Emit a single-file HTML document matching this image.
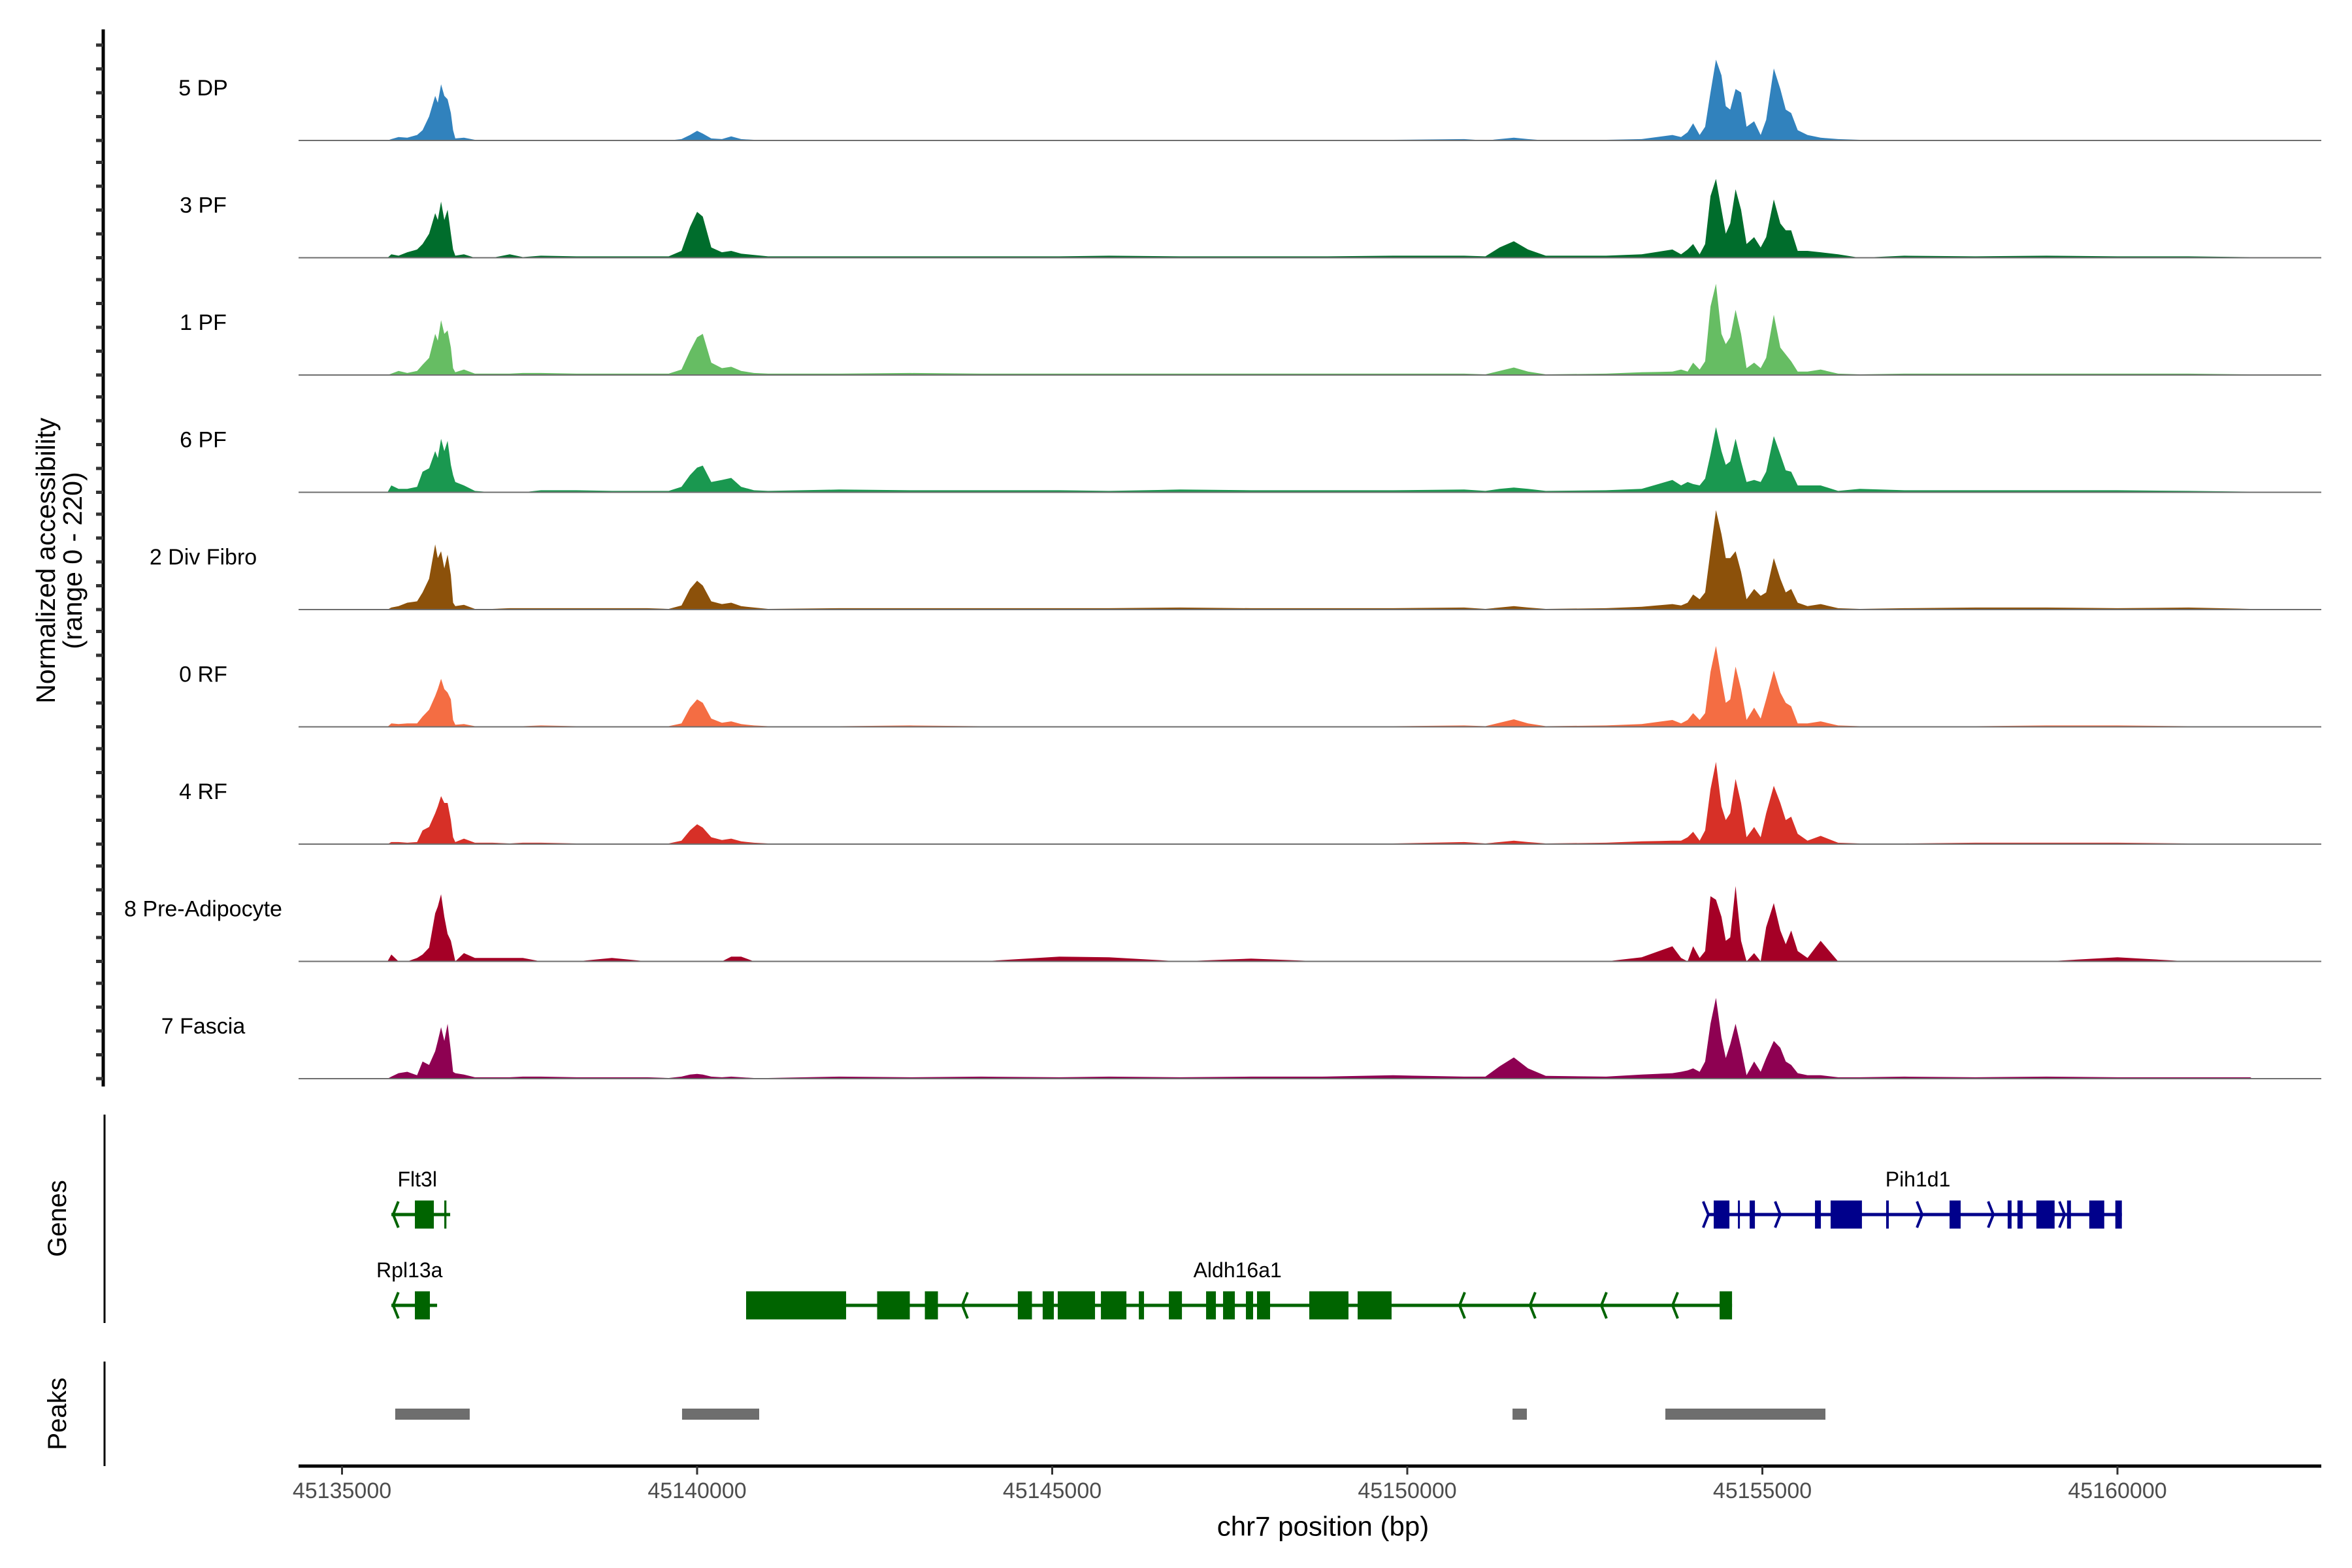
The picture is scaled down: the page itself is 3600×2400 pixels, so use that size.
<!DOCTYPE html>
<html><head><meta charset="utf-8"><style>
html,body{margin:0;padding:0;background:#fff;}
svg{display:block;font-family:"Liberation Sans",sans-serif;}
</style></head><body>
<svg id="chart" xmlns="http://www.w3.org/2000/svg" width="3600" height="2400" viewBox="0 0 3600 2400">
<rect width="3600" height="2400" fill="#fff"/>
<g id="tracks"></g>
<g id="genes"></g>
<g id="peaks"></g>
<g id="axes"></g>
<text transform="translate(70,858) rotate(-90)" text-anchor="middle" dominant-baseline="central" font-size="41">Normalized accessibility</text>
<text transform="translate(111,858) rotate(-90)" text-anchor="middle" dominant-baseline="central" font-size="41">(range 0 - 220)</text>
<text transform="translate(88,1865) rotate(-90)" text-anchor="middle" dominant-baseline="central" font-size="40">Genes</text>
<text transform="translate(88,2164) rotate(-90)" text-anchor="middle" dominant-baseline="central" font-size="40">Peaks</text>
<text x="2025" y="2336" text-anchor="middle" dominant-baseline="central" font-size="42">chr7 position (bp)</text>
</svg>
<script>
const regionStart = 45135000;
const trackNames = ["5 DP","3 PF","1 PF","6 PF","2 Div Fibro","0 RF","4 RF","8 Pre-Adipocyte","7 Fascia"];
const trackColors = ["#3182bd","#006d2c","#66bd63","#1a9850","#8c510a","#f46d43","#d73027","#a50026","#8e0152"];
const positions = [640,
695,796,919,1057,1134,1226,1312,1349,1395,1441,1487,1533,1564,1595,1717,1871,2116,2362,2546,
2800,3300,3800,4300,
4600,4780,4900,5000,5080,5200,5350,5480,5620,5800,6000,
7000,8000,9000,10100,10800,11800,12800,13800,14800,15800,
16100,16300,16500,16700,16950,
17800,18300,
18733,18856,18948,19025,19117,19194,19270,19347,19424,19485,19547,19623,19700,19777,19884,19976,20053,20161,20253,20329,20406,20498,20636,20821,21066,21373,
22000,23000,24000,25000,26000,26870,
26900];
const valsDP = [0,
2,5,4,8,15,35,65,55,82,65,60,40,15,3,4,1,1,1,1,
1,1,1,1,
0,2,8,14,10,3,2,6,2,1,0,
1,1,1,1,1,1,1,1,1,2,
0,2,4,2,0,
1,2,
8,5,12,25,8,20,70,118,95,50,45,75,70,20,28,8,30,105,75,45,40,15,8,4,2,1,
1,1,1,1,0,0,
0];
const vals3PF = [0,
5,3,8,12,20,35,65,55,82,55,70,35,12,3,5,0,0,5,1,
3,2,2,2,
2,10,45,67,60,15,8,10,6,4,2,
2,2,2,2,3,2,2,2,3,3,
2,15,24,12,3,
3,5,
12,5,12,20,5,20,90,115,70,35,50,100,70,20,30,15,30,85,50,40,40,10,10,8,5,0,
3,2,3,2,2,1,
0];
const vals1PF = [0,
2,6,3,6,15,25,60,50,80,60,65,40,10,4,8,2,2,2,3,
3,2,2,2,
2,8,35,55,60,18,10,12,6,3,2,
2,3,2,2,2,2,2,2,2,2,
1,6,11,5,1,
2,4,
5,8,5,18,8,20,100,133,60,45,55,95,60,10,18,10,25,88,40,30,20,5,5,8,2,1,
2,2,2,2,2,1,
0];
const vals6PF = [0,
10,5,5,8,30,35,60,50,78,60,75,40,25,15,10,2,0,0,0,
3,3,2,2,
2,8,25,36,39,15,18,21,8,3,2,
4,3,3,3,2,4,3,3,3,4,
2,5,7,5,2,
3,5,
18,10,15,12,10,20,55,95,60,40,45,78,45,15,18,15,30,82,55,32,30,10,10,10,2,5,
3,3,3,3,2,1,
0];
const valsDiv = [0,
3,5,10,12,25,45,95,75,85,60,80,50,10,5,7,1,1,2,2,
2,2,2,2,
1,6,30,42,35,12,8,10,5,3,1,
2,2,2,2,2,3,2,2,2,3,
1,3,5,3,1,
2,4,
8,6,10,22,15,25,85,145,110,75,75,85,55,15,30,20,25,75,45,25,30,10,5,8,2,1,
2,3,3,2,3,1,
0];
const vals0RF = [0,
5,4,5,5,15,25,45,55,70,55,50,40,10,3,4,1,1,1,1,
2,1,1,1,
1,5,28,40,35,12,6,8,4,2,1,
1,2,1,1,1,1,1,1,1,2,
1,6,11,5,1,
2,4,
10,5,10,20,10,20,80,118,70,35,40,88,55,10,28,12,40,82,50,35,30,5,5,8,2,1,
1,1,2,2,1,1,
0];
const vals4RF = [0,
3,3,2,3,20,25,45,55,70,60,60,35,10,3,8,2,2,1,2,
2,1,1,1,
1,5,20,29,24,10,6,8,4,2,1,
1,1,1,1,1,1,1,1,1,3,
1,3,5,3,1,
2,4,
5,5,10,18,5,20,80,120,55,35,45,95,60,10,25,10,45,85,60,35,40,15,5,12,2,1,
1,2,2,2,1,1,
0];
const valsPre = [0,
10,0,0,5,10,20,70,80,98,65,40,30,15,0,12,5,5,5,5,
0,0,5,0,
0,0,0,0,0,0,0,7,7,0,0,
0,0,0,7,6,0,4,0,0,0,
0,0,0,0,0,
0,6,
22,5,0,22,5,15,95,90,65,30,35,110,30,0,12,0,50,85,45,25,45,15,5,30,0,0,
0,0,0,6,0,0,
0];
const valsFas = [0,
3,8,10,5,25,20,40,55,75,55,80,40,10,8,6,2,2,2,3,
3,2,2,2,
1,3,6,7,6,3,2,3,2,1,1,
3,2,3,2,3,2,3,3,5,3,
3,18,31,15,4,
3,6,
8,10,12,15,10,25,80,118,60,30,50,80,45,5,25,10,30,55,45,25,20,8,5,5,2,2,
3,2,3,2,2,2,
0];
const trackValues = [valsDP,vals3PF,vals1PF,vals6PF,valsDiv,vals0RF,vals4RF,valsPre,valsFas];
const xTicks = [45135000,45140000,45145000,45150000,45155000,45160000];
const xTickLabels = ["45135000","45140000","45145000","45150000","45155000","45160000"];
const peakStarts = [45135749,45139788,45151482,45153634];
const peakEnds = [45136798,45140874,45151684,45155888];
const geneNames = ["Flt3l","Rpl13a","Aldh16a1","Pih1d1"];
const geneStarts = [45135695,45135695,45140690,45154223];
const geneEnds = [45136523,45136339,45154573,45160062];
const geneRows = [0,1,1,0];
const geneColors = ["#006400","#006400","#006400","#00008b"];
const geneLabelPos = [45136060,45135950,45147610,45157190];
const geneStrandDir = [-1,-1,-1,1];
const exonStarts = [
 [45136026,45136440],
 [45136026],
 [45140690,45142535,45143207,45144516,45144866,45145078,45145686,45146220,45146643,45147167,45147406,45147728,45147884,45148620,45149301,45154398],
 [45154315,45154656,45154821,45155741,45155961,45156743,45157636,45158454,45158592,45158858,45159290,45159603,45159970]
];
const exonEnds = [
 [45136293,45136470],
 [45136237],
 [45142098,45142995,45143391,45144715,45145023,45145603,45146045,45146293,45146827,45147305,45147572,45147829,45148068,45149172,45149779,45154573],
 [45154536,45154683,45154895,45155824,45156402,45156780,45157792,45158509,45158665,45159115,45159345,45159814,45160062]
];
const arrowPos = [
 [45135720],[45135720],
 [45143735,45150736,45151729,45152732,45153735],
 [45154240,45155253,45157250,45158253,45159256]
];

const NS = "http://www.w3.org/2000/svg";
const X0 = 457, X1 = 3553;
function xScale(p){ return 523.5 + (p - regionStart) * 0.1087; }
const baselines = [215,394.5,574,753.5,933,1112.5,1292,1471.5,1651];
const yDomainMax = 162, trackPx = 170;
function yScale(v, i){ return baselines[i] - v / yDomainMax * trackPx; }
function el(tag, attrs, parent){ const e = document.createElementNS(NS, tag); for (const k in attrs) e.setAttribute(k, attrs[k]); parent.appendChild(e); return e; }

const tracksG = document.getElementById('tracks');
trackValues.forEach((vals, i) => {
  const g = el('g', {}, tracksG);
  
  
  let d = 'M' + xScale(regionStart + positions[0]).toFixed(1) + ',' + baselines[i];
  positions.forEach((p, j) => { d += 'L' + xScale(regionStart + p).toFixed(1) + ',' + yScale(vals[j], i).toFixed(1); });
  d += 'L' + xScale(regionStart + positions[positions.length - 1]).toFixed(1) + ',' + baselines[i] + 'Z';
  const area = el('path', {d: d, fill: trackColors[i]}, g);
  
  
  const base = el('line', {x1: X0, x2: X1, y1: baselines[i], y2: baselines[i], stroke: '#6e6e6e', 'stroke-width': 2}, g);
  
  
  const lab = el('text', {x: 311, y: baselines[i] - 80, 'text-anchor': 'middle', 'dominant-baseline': 'central', 'font-size': 34, fill: '#000'}, g);
  lab.textContent = trackNames[i];
  
  
});

const axesG = document.getElementById('axes');
let a = el('line', {x1: 158, x2: 158, y1: 45, y2: 1663, stroke: '#000', 'stroke-width': 5}, axesG);


baselines.forEach((b) => {
  for (let k = 0; k < 5; k++) {
    const t = el('line', {x1: 147, x2: 158, y1: b - k * 36.5, y2: b - k * 36.5, stroke: '#333', 'stroke-width': 5}, axesG);
    
    
  }
});
a = el('line', {x1: 160, x2: 160, y1: 1706, y2: 2025, stroke: '#000', 'stroke-width': 3}, axesG);


a = el('line', {x1: 160, x2: 160, y1: 2084, y2: 2244, stroke: '#000', 'stroke-width': 3}, axesG);


a = el('line', {x1: X0, x2: X1, y1: 2244, y2: 2244, stroke: '#000', 'stroke-width': 5}, axesG);


xTicks.forEach((t, i) => {
  const x = xScale(t);
  const tk = el('line', {x1: x, x2: x, y1: 2244, y2: 2257, stroke: '#333', 'stroke-width': 3}, axesG);
  
  
  const tl = el('text', {x: x, y: 2282, 'text-anchor': 'middle', 'dominant-baseline': 'central', 'font-size': 34, fill: '#4d4d4d'}, axesG);
  tl.textContent = xTickLabels[i];
  
  
});

const peaksG = document.getElementById('peaks');
peakStarts.forEach((s, i) => {
  const r = el('rect', {x: xScale(s), y: 2156, width: xScale(peakEnds[i]) - xScale(s), height: 17, fill: '#6e6e6e'}, peaksG);
  
  
});

const genesG = document.getElementById('genes');
const rowY = [1859, 1998];
geneNames.forEach((name, i) => {
  const g = el('g', {}, genesG);
  
  
  const y = rowY[geneRows[i]], c = geneColors[i];
  el('line', {x1: xScale(geneStarts[i]), x2: xScale(geneEnds[i]), y1: y, y2: y, stroke: c, 'stroke-width': 5}, g);
  exonStarts[i].forEach((s, j) => {
    const w = Math.max(3, xScale(exonEnds[i][j]) - xScale(s));
    el('rect', {x: xScale(s), y: y - 21.5, width: w, height: 43, fill: c}, g);
  });
  arrowPos[i].forEach((p) => {
    const x = xScale(p), dx = 8 * geneStrandDir[i];
    el('path', {d: 'M' + (x - dx) + ',' + (y - 20) + 'L' + x + ',' + y + 'L' + (x - dx) + ',' + (y + 20), fill: 'none', stroke: c, 'stroke-width': 4}, g);
  });
  const t = el('text', {x: xScale(geneLabelPos[i]), y: y - 54, 'text-anchor': 'middle', 'dominant-baseline': 'central', 'font-size': 32, fill: '#000'}, g);
  t.textContent = name;
  
  
});
</script>
</body></html>
